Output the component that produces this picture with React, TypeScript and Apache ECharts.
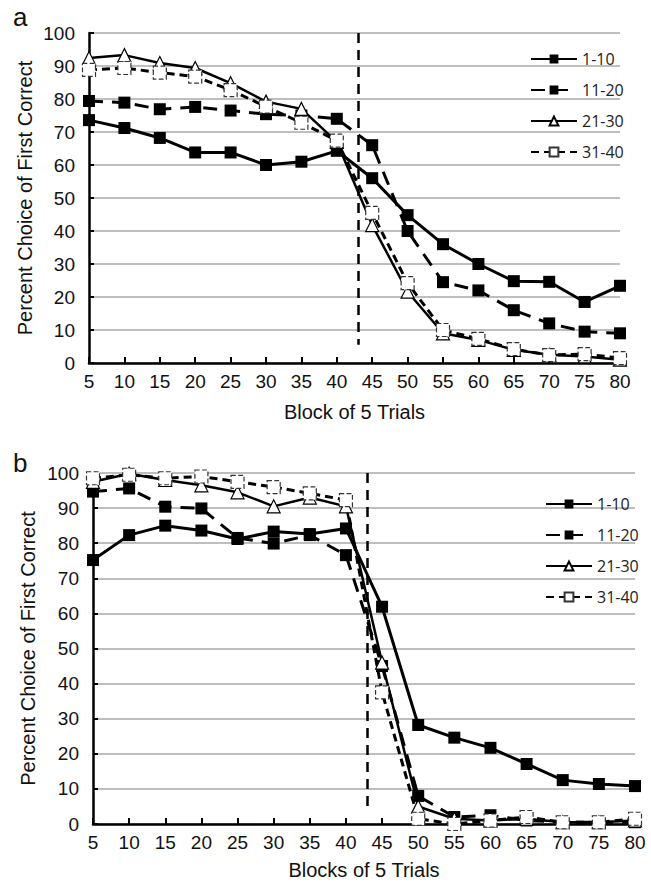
import React, { useEffect, useRef } from "react";
import * as echarts from "echarts";

const blocks = [5, 10, 15, 20, 25, 30, 35, 40, 45, 50, 55, 60, 65, 70, 75, 80];
const seriesNames = ["1-10", "11-20", "21-30", "31-40"];

// Panel a
const a1to10 = [73.6, 71.2, 68.2, 63.8, 63.8, 60, 61, 64.3, 56, 44.8, 36, 30, 24.8, 24.6, 18.5, 23.4];
const a11to20 = [79.4, 78.9, 76.9, 77.6, 76.5, 75.4, 75, 74, 66, 40, 24.5, 22, 16, 12, 9.5, 9];
const a21to30 = [92.4, 93.3, 90.9, 89.4, 84.8, 79.2, 77, 67, 41.8, 21.6, 9, 7, 4, 2.5, 2, 1];
const a31to40 = [88.8, 89.4, 88, 86.8, 82.7, 77.7, 72.8, 67.4, 45.5, 24.2, 10, 7.3, 4.2, 2.4, 2.7, 1.5];

// Panel b
const b1to10 = [75.2, 82.3, 85, 83.6, 81.2, 83.3, 82.6, 84.2, 61.9, 28.2, 24.6, 21.7, 17.1, 12.5, 11.4, 10.8];
const b11to20 = [94.7, 95.6, 90.4, 89.9, 81.5, 79.9, 82.3, 76.6, 45, 8, 2, 2.5, 1, 0.5, 0.5, 0.5];
const b21to30 = [97.5, 99.8, 98, 96.5, 94.5, 90.5, 93, 90.5, 46, 5, 1.5, 1, 1.5, 0.5, 0.5, 1];
const b31to40 = [98.5, 99.5, 98.5, 99, 97.5, 96, 94.2, 92.3, 37.5, 1.5, 0, 1, 2, 0.5, 0.5, 1.5];

const reversalBlock = 43;
const yTitle = "Percent Choice of First Correct";
const xTitleA = "Block of 5 Trials";
const xTitleB = "Blocks of 5 Trials";

const FONT = "Liberation Sans";

function pairs(vals: number[]) {
  return blocks.map((b, i) => [b, vals[i]]);
}

const styles = [
  {
    lineStyle: { color: "#000", width: 3, type: "solid" as any },
    symbol: "rect",
    symbolSize: 12,
    itemStyle: { color: "#000", borderColor: "#000", borderWidth: 0 },
  },
  {
    lineStyle: { color: "#000", width: 3, type: [14, 9] as any },
    symbol: "rect",
    symbolSize: 12,
    itemStyle: { color: "#000", borderColor: "#000", borderWidth: 0 },
  },
  {
    lineStyle: { color: "#000", width: 2.5, type: "solid" as any },
    symbol: "triangle",
    symbolSize: 13,
    itemStyle: { color: "#fff", borderColor: "#000", borderWidth: 1.2 },
  },
  {
    lineStyle: { color: "#000", width: 3, type: [8, 5] as any },
    symbol: "rect",
    symbolSize: 13,
    itemStyle: { color: "#fff", borderColor: "#333", borderWidth: 1.2, borderType: "dashed" as any },
  },
];

function makeAxes(idx: number, xName: string, nameGapX: number, nameGapY: number) {
  const xAxis = {
    type: "value",
    gridIndex: idx,
    min: 5,
    max: 80,
    interval: 5,
    name: xName,
    nameLocation: "middle",
    nameGap: nameGapX,
    nameMoveOverlap: false,
    nameTextStyle: { fontSize: 20, color: "#111", fontFamily: FONT },
    axisLine: { show: true, lineStyle: { color: "#000", width: 2.5 } },
    axisTick: { show: true, inside: true, length: 6, lineStyle: { color: "#000", width: 2 } },
    axisLabel: { fontSize: 19, color: "#111", margin: 9, fontFamily: FONT },
    splitLine: { show: false },
  };
  const yAxis = {
    type: "value",
    gridIndex: idx,
    min: 0,
    max: 100,
    interval: 10,
    name: yTitle,
    nameLocation: "middle",
    nameGap: nameGapY,
    nameMoveOverlap: false,
    nameTextStyle: { fontSize: 20, color: "#111", fontFamily: FONT },
    axisLine: { show: true, lineStyle: { color: "#000", width: 2.5 } },
    axisTick: { show: true, inside: true, length: 5, lineStyle: { color: "#000", width: 2 } },
    axisLabel: { fontSize: 19, color: "#111", margin: 14, fontFamily: FONT },
    splitLine: { show: true, lineStyle: { color: "#a8a8a8", width: 1.5 } },
  };
  return { xAxis, yAxis };
}

export default function App() {
  const ref = useRef<HTMLDivElement>(null);
  useEffect(() => {
    if (!ref.current) return;
    const chart = echarts.init(ref.current, undefined, { renderer: "svg" });
    const axA = makeAxes(0, xTitleA, 39, 54);
    const axB = makeAxes(1, xTitleB, 36, 55);
    const panelData = [
      [a1to10, a11to20, a21to30, a31to40],
      [b1to10, b11to20, b21to30, b31to40],
    ];
    const markBottoms = [5.5, 4.5];
    const series: any[] = [];
    panelData.forEach((panel, p) => {
      panel.forEach((vals, s) => {
        const st = styles[s];
        const ser: any = {
          type: "line",
          name: seriesNames[s],
          xAxisIndex: p,
          yAxisIndex: p,
          data: pairs(vals),
          symbol: st.symbol,
          symbolSize: st.symbolSize,
          lineStyle: st.lineStyle,
          itemStyle: st.itemStyle,
          showSymbol: true,
          emphasis: { disabled: true },
        };
        if (s === 0) {
          ser.markLine = {
            silent: true,
            symbol: "none",
            label: { show: false },
            lineStyle: { color: "#000", width: 2.5, type: [10, 7] },
            data: [[{ coord: [reversalBlock, 100] }, { coord: [reversalBlock, markBottoms[p]] }]],
          };
        }
        series.push(ser);
      });
    });

    const legendBase = {
      orient: "vertical",
      itemWidth: 46,
      itemHeight: 11,
      itemGap: 15,
      textStyle: { fontSize: 16, color: "#222", fontFamily: "Open Sans", lineHeight: 16 },
      data: seriesNames,
      selectedMode: false,
    };

    chart.setOption({
      animation: false,
      textStyle: { fontFamily: FONT },
      grid: [
        { left: 89, top: 33, width: 531, height: 330, containLabel: false },
        { left: 93, top: 473, width: 542, height: 351, containLabel: false },
      ],
      xAxis: [axA.xAxis, axB.xAxis],
      yAxis: [axA.yAxis, axB.yAxis],
      legend: [
        { ...legendBase, left: 525, top: 46 },
        { ...legendBase, left: 540, top: 491 },
      ],
      graphic: [
        { type: "text", left: 13, top: 4, style: { text: "a", fontSize: 26, fill: "#111", fontFamily: FONT } },
        { type: "text", left: 13, top: 450, style: { text: "b", fontSize: 26, fill: "#111", fontFamily: FONT } },
      ],
      series,
    });
    return () => chart.dispose();
  }, []);
  return (
    <div
      ref={ref}
      style={{ position: "absolute", left: 0, top: 0, width: 651, height: 884, background: "#fff" }}
    />
  );
}
